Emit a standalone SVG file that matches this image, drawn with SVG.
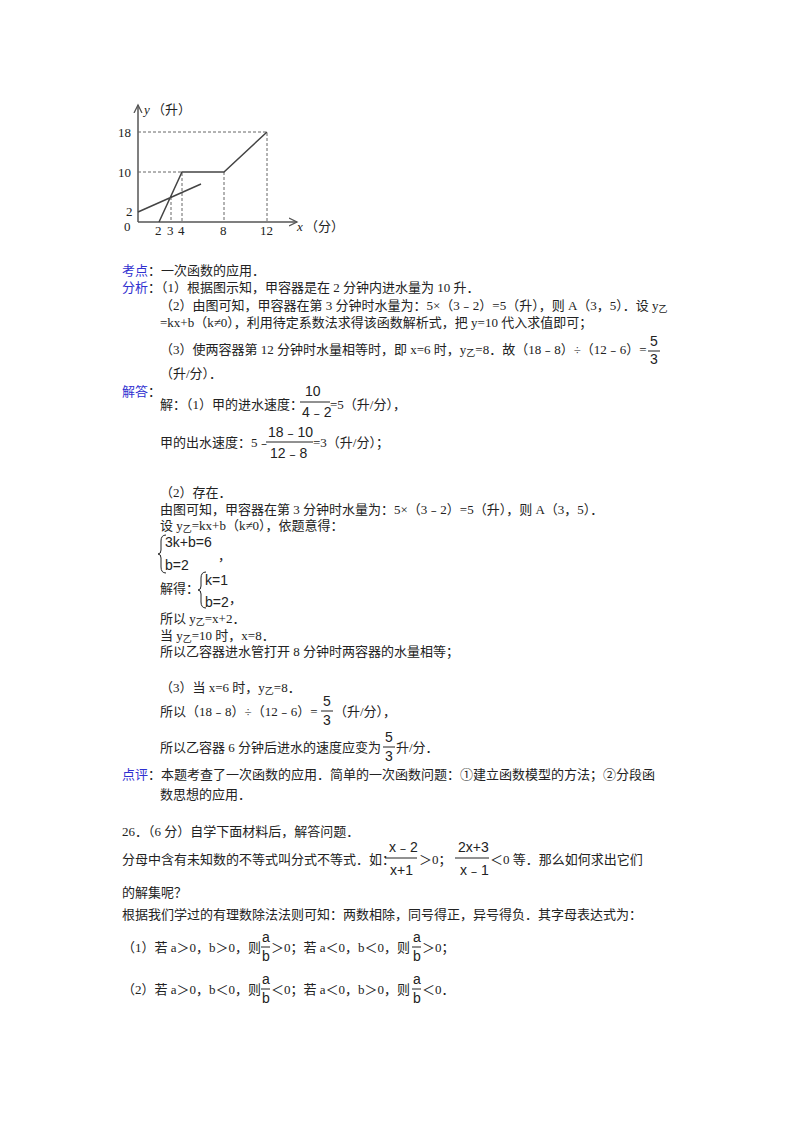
<svg xmlns="http://www.w3.org/2000/svg" width="800" height="1132" viewBox="0 0 800 1132">
<style>
text{font-family:"Liberation Serif","Noto Sans CJK SC",serif;font-size:13px;fill:#222}
.b{fill:#3030d0}
.s{font-size:9px}
.m{font-family:"Liberation Sans","Noto Sans CJK SC",sans-serif;font-size:14px}
.ax{stroke:#555;stroke-width:1.5;fill:none}
.ln{stroke:#444;stroke-width:1.5;fill:none}
.d{stroke:#666;stroke-width:1;stroke-dasharray:3,2;fill:none}
.f{stroke:#222;stroke-width:1}
</style>
<defs><marker id="a" markerWidth="10" markerHeight="10" refX="8" refY="5" orient="auto" markerUnits="userSpaceOnUse"><path d="M0,1 L8,5 L0,9" fill="none" stroke="#555" stroke-width="1.3"/></marker></defs>
<rect width="800" height="1132" fill="#fff"/>
<g id="chart">
<line class="ax" x1="138" y1="222" x2="297" y2="222" marker-end="url(#a)"/>
<line class="ax" x1="138" y1="222" x2="138" y2="105" marker-end="url(#a)"/>
<path class="d" d="M138,132H267V222M138,172H182V222M224,172V222M171,197V222"/>
<path class="ln" d="M159,222L182,172H224L267,132M138,212L201,184"/>
<text x="144" y="114" font-style="italic">y</text><text x="152" y="114">（升）</text>
<text x="118" y="137">18</text><text x="118" y="177">10</text><text x="126" y="216">2</text><text x="124" y="231">0</text>
<text x="155" y="235">2</text><text x="167" y="235">3</text><text x="178" y="235">4</text><text x="220" y="235">8</text><text x="260" y="235">12</text>
<text x="297" y="231" font-style="italic">x</text><text x="305" y="231">（分）</text>
</g>
<g id="text">
<text class="b" x="122" y="275">考点</text><text x="148" y="275">：一次函数的应用．</text>
<text class="b" x="122" y="292">分析</text><text x="148" y="292">：（1）根据图示知，甲容器是在 2 分钟内进水量为 10 升．</text>
<text x="160" y="310">（2）由图可知，甲容器在第 3 分钟时水量为：5×（3﹣2）=5（升），则 A（3，5）．设 y<tspan class="s" dy="2">乙</tspan></text>
<text x="160" y="327">=kx+b（k≠0），利用待定系数法求得该函数解析式，把 y=10 代入求值即可；</text>
<text x="160" y="354">（3）使两容器第 12 分钟时水量相等时，即 x=6 时，y<tspan class="s" dy="2">乙</tspan><tspan dy="-2">=8．故（18﹣8）÷（12﹣6）=</tspan></text>
<text class="m" x="650" y="346">5</text><line class="f" x1="648" y1="351" x2="660" y2="351"/><text class="m" x="650" y="364">3</text>
<text x="160" y="378">（升/分）．</text>
<text class="b" x="122" y="396">解答</text><text x="148" y="396">：</text>
<text x="160" y="409">解：（1）甲的进水速度：</text>
<text class="m" x="305" y="396">10</text><line class="f" x1="300" y1="402" x2="330" y2="402"/><text class="m" x="302" y="417">4﹣2</text>
<text x="330" y="409">=5（升/分），</text>
<text x="160" y="447">甲的出水速度：5﹣</text>
<text class="m" x="268" y="437">18﹣10</text><line class="f" x1="266" y1="442" x2="313" y2="442"/><text class="m" x="270" y="458">12﹣8</text>
<text x="313" y="447">=3（升/分）；</text>
<text x="160" y="497">（2）存在．</text>
<text x="160" y="514">由图可知，甲容器在第 3 分钟时水量为：5×（3﹣2）=5（升），则 A（3，5）．</text>
<text x="160" y="530">设 y<tspan class="s" dy="2">乙</tspan><tspan dy="-2">=kx+b（k≠0），依题意得：</tspan></text>
<path class="f" fill="none" d="M166,535Q161,535 161,541V550Q161,554 158,554Q161,554 161,558V567Q161,573 166,573"/>
<text class="m" x="165" y="547">3k+b=6</text><text class="m" x="165" y="570">b=2</text><text x="218" y="560">，</text>
<text x="160" y="593">解得：</text>
<path class="f" fill="none" d="M206,572Q201,572 201,578V586Q201,590 198,590Q201,590 201,594V602Q201,608 206,608"/>
<text class="m" x="205" y="585">k=1</text><text class="m" x="205" y="607">b=2</text><text x="229" y="603">，</text>
<text x="160" y="623">所以 y<tspan class="s" dy="2">乙</tspan><tspan dy="-2">=x+2．</tspan></text>
<text x="160" y="640">当 y<tspan class="s" dy="2">乙</tspan><tspan dy="-2">=10 时，x=8．</tspan></text>
<text x="160" y="656">所以乙容器进水管打开 8 分钟时两容器的水量相等；</text>
<text x="160" y="692">（3）当 x=6 时，y<tspan class="s" dy="2">乙</tspan><tspan dy="-2">=8．</tspan></text>
<text x="160" y="716">所以（18﹣8）÷（12﹣6）=</text>
<text class="m" x="323" y="706">5</text><line class="f" x1="321" y1="711" x2="333" y2="711"/><text class="m" x="323" y="725">3</text>
<text x="334" y="716">（升/分），</text>
<text x="160" y="752">所以乙容器 6 分钟后进水的速度应变为</text>
<text class="m" x="385" y="742">5</text><line class="f" x1="383" y1="747" x2="395" y2="747"/><text class="m" x="385" y="761">3</text>
<text x="396" y="752">升/分．</text>
<text class="b" x="122" y="779">点评</text><text x="148" y="779">：本题考查了一次函数的应用．简单的一次函数问题：①建立函数模型的方法；②分段函</text>
<text x="160" y="799">数思想的应用．</text>
<text x="122" y="836">26．（6 分）自学下面材料后，解答问题．</text>
<text x="122" y="864">分母中含有未知数的不等式叫分式不等式．如：</text>
<text class="m" x="389" y="852">x﹣2</text><line class="f" x1="385" y1="858" x2="417" y2="858"/><text class="m" x="390" y="875">x+1</text>
<text x="419" y="864">＞0；</text>
<text class="m" x="458" y="852">2x+3</text><line class="f" x1="455" y1="858" x2="489" y2="858"/><text class="m" x="460" y="875">x﹣1</text>
<text x="490" y="864">＜0 等．那么如何求出它们</text>
<text x="122" y="897">的解集呢？</text>
<text x="122" y="919">根据我们学过的有理数除法法则可知：两数相除，同号得正，异号得负．其字母表达式为：</text>
<text x="122" y="952">（1）若 a＞0，b＞0，则</text><text class="m" x="262" y="942">a</text><line class="f" x1="261" y1="947" x2="270" y2="947"/><text class="m" x="262" y="961">b</text><text x="271" y="952">＞0；若 a＜0，b＜0，则</text><text class="m" x="413" y="942">a</text><line class="f" x1="412" y1="947" x2="421" y2="947"/><text class="m" x="413" y="961">b</text><text x="422" y="952">＞0；</text>
<text x="122" y="994">（2）若 a＞0，b＜0，则</text><text class="m" x="262" y="984">a</text><line class="f" x1="261" y1="989" x2="270" y2="989"/><text class="m" x="262" y="1003">b</text><text x="271" y="994">＜0；若 a＜0，b＞0，则</text><text class="m" x="413" y="984">a</text><line class="f" x1="412" y1="989" x2="421" y2="989"/><text class="m" x="413" y="1003">b</text><text x="422" y="994">＜0．</text>
</g>
</svg>
